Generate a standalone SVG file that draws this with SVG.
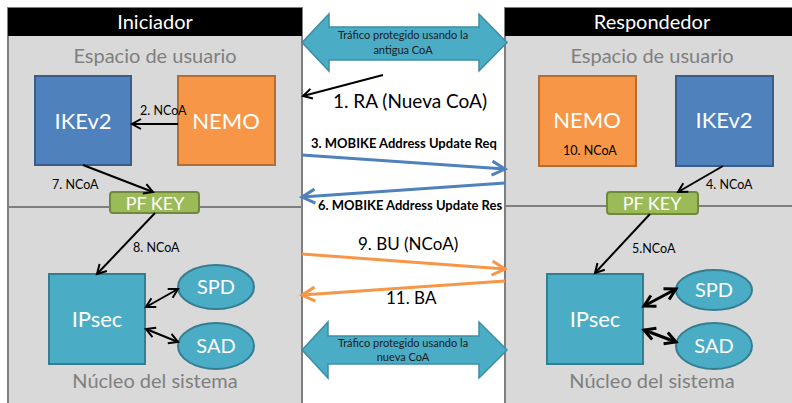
<svg xmlns="http://www.w3.org/2000/svg" width="792" height="403" viewBox="0 0 792 403">
  <style>
    text { font-family: Lato, "Liberation Sans", sans-serif; }
    .panel { fill: #d9d9d9; stroke: #7f7f7f; stroke-width: 2; }
    .hdr { fill: #000000; }
    .hdrtxt { fill: #ffffff; font-size: 20px; text-anchor: middle; }
    .zone { fill: #7f7f7f; font-size: 20px; text-anchor: middle; }
    .div { stroke: #7f7f7f; stroke-width: 2; }
    .ike { fill: #4f81bd; stroke: #385d8a; stroke-width: 2; }
    .nemo { fill: #f79646; stroke: #b66d31; stroke-width: 2; }
    .pfkey { fill: #9bbb59; stroke: #71893f; stroke-width: 2; }
    .ipsec { fill: #4bacc6; stroke: #357d91; stroke-width: 2; }
    .big { fill: #ffffff; font-size: 22px; text-anchor: middle; }
    .mid { fill: #ffffff; font-size: 20px; text-anchor: middle; }
    .small { fill: #000000; font-size: 12.5px; }
    .msg { fill: #000000; font-size: 19px; }
    .msg2 { fill: #000000; font-size: 17px; }
    .bold { fill: #000000; font-size: 13px; font-weight: bold; }
    .flow { fill: #4bacc6; stroke: #3c8ea5; stroke-width: 1.5; }
    .flowtxt { fill: #1a1a1a; font-size: 11px; text-anchor: middle; }
    .blk { stroke: #000000; stroke-width: 2; fill: none; }
    .blk2 { stroke: #000000; stroke-width: 3; fill: none; }
    .blue { stroke: #4f81bd; stroke-width: 3; fill: none; }
    .orng { stroke: #f79646; stroke-width: 3; fill: none; }
  </style>
  <defs>
    <marker id="hBlack" markerUnits="userSpaceOnUse" markerWidth="14" markerHeight="14" refX="11" refY="7" orient="auto-start-reverse">
      <path d="M2,2 L11,7 L2,12" fill="none" stroke="#000000" stroke-width="2"/>
    </marker>
    <marker id="hBlack2" markerUnits="userSpaceOnUse" markerWidth="16" markerHeight="16" refX="13" refY="8" orient="auto-start-reverse">
      <path d="M2,2 L13,8 L2,14" fill="none" stroke="#000000" stroke-width="3"/>
    </marker>
    <marker id="hBlue" markerUnits="userSpaceOnUse" markerWidth="18" markerHeight="18" refX="15" refY="9" orient="auto">
      <path d="M2,2 L15,9 L2,16" fill="none" stroke="#4f81bd" stroke-width="3"/>
    </marker>
    <marker id="hOrange" markerUnits="userSpaceOnUse" markerWidth="18" markerHeight="18" refX="15" refY="9" orient="auto">
      <path d="M2,2 L15,9 L2,16" fill="none" stroke="#f79646" stroke-width="3"/>
    </marker>
  </defs>

  <rect width="792" height="403" fill="#ffffff"/>

  <!-- Initiator side -->
  <g id="iniciador">
    <rect class="panel" x="8" y="8" width="294" height="405"/>
    <rect class="hdr" x="8" y="8" width="294" height="28"/>
    <text class="hdrtxt" x="155" y="29">Iniciador</text>
    <text class="zone" x="155" y="63">Espacio de usuario</text>
    <line class="div" x1="8" y1="207" x2="302" y2="207"/>
    <text class="zone" x="155" y="388">Núcleo del sistema</text>
  </g>

  <!-- Responder side -->
  <g id="respondedor">
    <rect class="panel" x="505" y="8" width="300" height="405"/>
    <rect class="hdr" x="505" y="8" width="300" height="28"/>
    <text class="hdrtxt" x="652" y="29">Respondedor</text>
    <text class="zone" x="652" y="63">Espacio de usuario</text>
    <line class="div" x1="505" y1="206" x2="792" y2="206"/>
    <text class="zone" x="652" y="388">Núcleo del sistema</text>
  </g>

  <!-- Initiator nodes -->
  <g id="ini-ikev2">
    <rect class="ike" x="35" y="76" width="96" height="89"/>
    <text class="big" x="83" y="129">IKEv2</text>
  </g>
  <g id="ini-nemo">
    <rect class="nemo" x="178" y="76" width="97" height="89"/>
    <text class="big" x="226" y="129">NEMO</text>
  </g>
  <g id="ini-pfkey">
    <rect class="pfkey" x="110" y="192" width="89" height="21" rx="3"/>
    <text class="mid" x="155" y="210" style="font-size:18px">PF KEY</text>
  </g>
  <g id="ini-ipsec">
    <rect class="ipsec" x="49" y="274" width="96" height="90"/>
    <text class="big" x="97" y="327">IPsec</text>
  </g>
  <g id="ini-spd">
    <ellipse class="ipsec" cx="216" cy="287" rx="38" ry="22"/>
    <text class="mid" x="216" y="294">SPD</text>
  </g>
  <g id="ini-sad">
    <ellipse class="ipsec" cx="216" cy="346" rx="38" ry="23"/>
    <text class="mid" x="216" y="353">SAD</text>
  </g>

  <!-- Responder nodes -->
  <g id="resp-nemo">
    <rect class="nemo" x="539" y="76" width="97" height="90"/>
    <text class="big" x="587" y="128">NEMO</text>
    <text class="small" x="563" y="155">10. NCoA</text>
  </g>
  <g id="resp-ikev2">
    <rect class="ike" x="676" y="76" width="97" height="90"/>
    <text class="big" x="724" y="128">IKEv2</text>
  </g>
  <g id="resp-pfkey">
    <rect class="pfkey" x="607" y="192" width="91" height="22" rx="3"/>
    <text class="mid" x="652" y="210" style="font-size:18px">PF KEY</text>
  </g>
  <g id="resp-ipsec">
    <rect class="ipsec" x="547" y="274" width="96" height="90"/>
    <text class="big" x="595" y="327">IPsec</text>
  </g>
  <g id="resp-spd">
    <ellipse class="ipsec" cx="714" cy="290" rx="38" ry="20"/>
    <text class="mid" x="714" y="297">SPD</text>
  </g>
  <g id="resp-sad">
    <ellipse class="ipsec" cx="714" cy="346" rx="38" ry="23"/>
    <text class="mid" x="714" y="353">SAD</text>
  </g>

  <!-- Protected traffic tunnels -->
  <g id="trafico-antiguo">
    <path class="flow" d="M302,42.5 L329,14 L329,27 L479,27 L479,14 L507,42.5 L479,71 L479,60 L329,60 L329,71 Z"/>
    <text class="flowtxt" x="403" y="39">Tráfico protegido  usando la</text>
    <text class="flowtxt" x="403" y="54">antigua CoA</text>
  </g>
  <g id="trafico-nuevo">
    <path class="flow" d="M302,350 L328,322 L328,336 L479,336 L479,322 L507,350 L479,378 L479,364 L328,364 L328,378 Z"/>
    <text class="flowtxt" x="403" y="347">Tráfico protegido  usando la</text>
    <text class="flowtxt" x="403" y="361">nueva CoA</text>
  </g>

  <!-- Connectors -->
  <g id="conectores">
    <line class="blk" x1="178" y1="124" x2="132" y2="124" marker-end="url(#hBlack)"/>
    <line class="blk" x1="83" y1="165" x2="153" y2="192" marker-end="url(#hBlack)"/>
    <line class="blk" x1="155" y1="213" x2="97" y2="274" marker-end="url(#hBlack)"/>
    <line class="blk" x1="146" y1="307" x2="178" y2="289" marker-start="url(#hBlack)" marker-end="url(#hBlack)"/>
    <line class="blk" x1="146" y1="329" x2="178" y2="342" marker-start="url(#hBlack)" marker-end="url(#hBlack)"/>

    <line class="blk" x1="723" y1="166" x2="678" y2="192" marker-end="url(#hBlack)"/>
    <line class="blk" x1="650" y1="214" x2="595" y2="273" marker-end="url(#hBlack)"/>
    <line class="blk2" x1="644" y1="306" x2="676" y2="289" marker-start="url(#hBlack2)" marker-end="url(#hBlack2)"/>
    <line class="blk2" x1="644" y1="330" x2="676" y2="342" marker-start="url(#hBlack2)" marker-end="url(#hBlack2)"/>

    <line class="blk" x1="383" y1="75" x2="303" y2="96" marker-end="url(#hBlack)"/>
    <line class="blue" x1="302" y1="155" x2="505" y2="169" marker-end="url(#hBlue)"/>
    <line class="blue" x1="505" y1="183" x2="302" y2="197" marker-end="url(#hBlue)"/>
    <line class="orng" x1="302" y1="254" x2="505" y2="269" marker-end="url(#hOrange)"/>
    <line class="orng" x1="505" y1="281" x2="302" y2="295" marker-end="url(#hOrange)"/>
  </g>

  <!-- Connector labels -->
  <g id="etiquetas">
    <text class="small" x="140" y="115">2. NCoA</text>
    <text class="small" x="52" y="189">7. NCoA</text>
    <text class="small" x="133" y="252">8. NCoA</text>
    <text class="small" x="706" y="189">4. NCoA</text>
    <text class="small" x="632" y="253">5.NCoA</text>
    <text class="msg" x="333" y="108">1. RA (Nueva CoA)</text>
    <text class="bold" x="311" y="148">3. MOBIKE Address Update Req</text>
    <text class="bold" x="318" y="210">6. MOBIKE Address Update Res</text>
    <text class="msg2" x="358" y="250">9. BU (NCoA)</text>
    <text class="msg2" x="386" y="304">11. BA</text>
  </g>
</svg>
